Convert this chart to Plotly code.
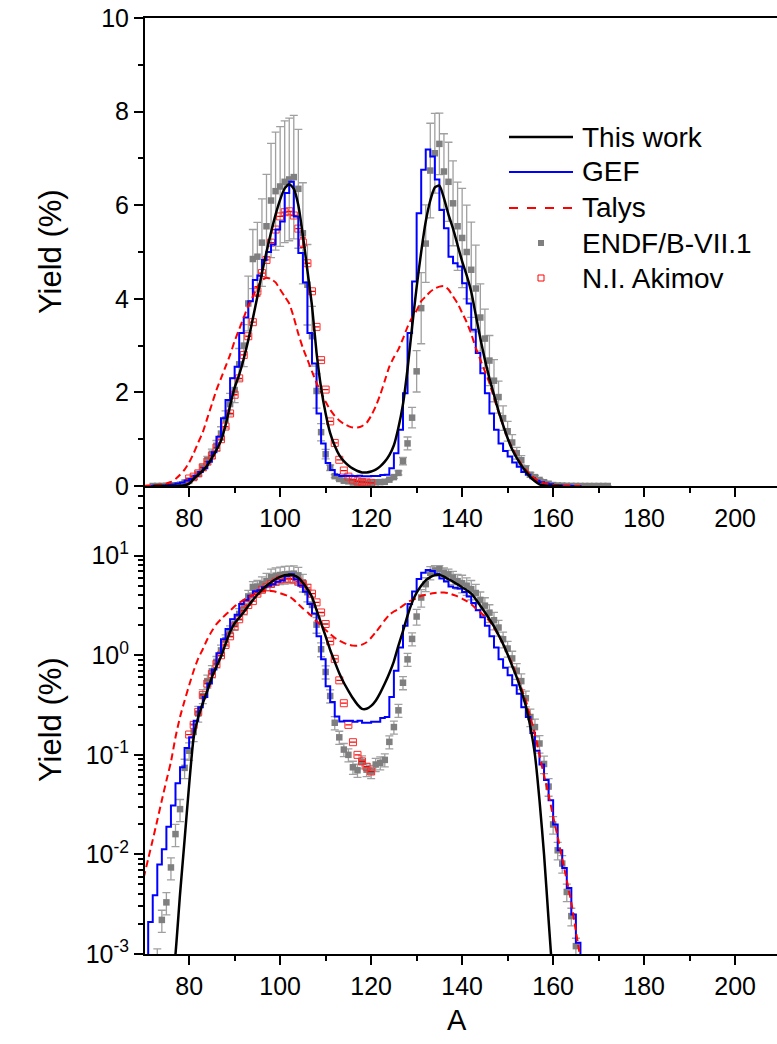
import plotly.graph_objects as go

# ---------------- data ----------------
# This work (smooth curve)
WORK_A = list(range(72, 163))
WORK_Y = [0.00001, 0.00003, 0.00008, 0.0002, 0.0004, 0.001, 0.004, 0.014, 0.05, 0.15,
          0.24, 0.33, 0.44, 0.6, 0.77, 0.97, 1.3, 1.72, 2.1, 2.38,
          2.72, 3.12, 3.58, 4.05, 4.55, 5.0, 5.42, 5.8, 6.12, 6.36,
          6.45, 6.35, 6.0, 5.35, 4.6, 3.85, 2.85, 2.1, 1.55, 1.13,
          0.86, 0.66, 0.53, 0.44, 0.37, 0.32, 0.29, 0.29, 0.31, 0.35,
          0.42, 0.52, 0.66, 0.87, 1.25, 1.75, 2.5, 3.4, 4.25, 5.0,
          5.65, 6.1, 6.38, 6.42, 6.15, 5.8, 5.5, 5.15, 4.8, 4.5,
          4.15, 3.65, 3.15, 2.7, 2.3, 1.95, 1.6, 1.3, 1.02, 0.78,
          0.6, 0.44, 0.31, 0.19, 0.1, 0.035, 0.01, 0.0022, 0.0005, 0.0001,
          0.00002]

# GEF (histogram, one bin per mass number)
GEF_A = list(range(70, 167))
GEF_Y = [0.0009, 0.0021, 0.0039, 0.0079, 0.0113, 0.019, 0.031, 0.052, 0.075, 0.117,
         0.15, 0.22, 0.3, 0.38, 0.52, 0.72, 1.05, 1.45, 1.84, 2.3,
         2.55, 3.27, 3.6, 3.95, 4.4, 4.5, 4.83, 5.0, 5.16, 5.48,
         5.65, 6.26, 6.5, 5.76, 4.98, 4.35, 3.27, 2.62, 1.55, 0.91,
         0.49, 0.34, 0.243, 0.216, 0.22, 0.22, 0.215, 0.22, 0.21, 0.21,
         0.215, 0.215, 0.235, 0.24, 0.38, 0.7, 1.2, 1.98, 3.27, 4.37,
         5.83, 6.76, 7.19, 7.04, 6.55, 5.9, 5.51, 4.9, 4.76, 4.69,
         4.33, 3.9, 3.34, 2.84, 2.41, 1.98, 1.55, 1.2, 0.91, 0.75,
         0.63, 0.5, 0.41, 0.3, 0.24, 0.166, 0.11, 0.08, 0.056, 0.035,
         0.02, 0.011, 0.0073, 0.0046, 0.0025, 0.0013, 0.0003]

# Talys (smooth dashed curve)
TALYS_A = list(range(70, 167))
TALYS_Y = [0.0058, 0.009, 0.014, 0.022, 0.035, 0.055, 0.085, 0.15, 0.24, 0.35,
           0.5, 0.7, 0.93, 1.15, 1.45, 1.75, 2.05, 2.3, 2.55, 2.8,
           3.1, 3.35, 3.6, 3.85, 4.05, 4.25, 4.4, 4.45, 4.42, 4.35,
           4.2, 4.05, 3.9, 3.6, 3.25, 2.95, 2.7, 2.45, 2.2, 2.0,
           1.8, 1.63, 1.5, 1.4, 1.33, 1.28, 1.25, 1.25, 1.28, 1.35,
           1.5, 1.7, 1.95, 2.25, 2.55, 2.75, 2.92, 3.15, 3.4, 3.6,
           3.75, 3.95, 4.05, 4.15, 4.22, 4.26, 4.27, 4.2, 4.05, 3.9,
           3.7, 3.5, 3.25, 2.95, 2.7, 2.45, 2.2, 1.88, 1.58, 1.3,
           1.02, 0.82, 0.62, 0.47, 0.35, 0.24, 0.16, 0.1, 0.062, 0.04,
           0.024, 0.015, 0.009, 0.0055, 0.0033, 0.0017, 0.0009]

# ENDF/B-VII.1 evaluated yields with relative uncertainties
ENDF_A = list(range(72, 173))
ENDF_Y = [0.0003, 0.0009, 0.0022, 0.0033, 0.0074, 0.016, 0.0285, 0.074, 0.11, 0.17,
          0.26, 0.39, 0.55, 0.69, 0.86, 1.12, 1.42, 1.75, 2.05, 2.6,
          3.0, 3.9, 4.85, 4.9, 5.2, 5.55, 6.1, 6.3, 6.4, 6.5,
          6.55, 6.6, 6.35, 5.4, 4.3, 3.2, 2.03, 1.15, 0.68, 0.39,
          0.21, 0.15, 0.113, 0.1, 0.075, 0.07, 0.085, 0.071, 0.068, 0.08,
          0.083, 0.089, 0.135, 0.19, 0.28, 0.53, 0.91, 1.46, 2.45, 3.8,
          5.18, 6.74, 7.11, 7.31, 6.72, 6.5, 6.04, 5.55, 5.3, 5.0,
          4.62, 4.22, 3.6, 3.15, 2.68, 2.25, 1.9, 1.45, 1.17, 0.93,
          0.7, 0.55, 0.37, 0.24, 0.19, 0.13, 0.081, 0.048, 0.02, 0.011,
          0.0081, 0.0042, 0.0024, 0.0012, 0.0006, 0.0003, 0.00015, 0.00008, 0.00004, 0.00002,
          0.00001]
ENDF_REL = [0.25, 0.25, 0.25, 0.25, 0.25, 0.25, 0.25, 0.22, 0.2, 0.2,
            0.18, 0.16, 0.15, 0.14, 0.13, 0.13, 0.13, 0.13, 0.13, 0.13,
            0.15, 0.15, 0.13, 0.15, 0.18, 0.2, 0.2, 0.2, 0.2, 0.2,
            0.2, 0.2, 0.2, 0.2, 0.2, 0.2, 0.18, 0.16, 0.15, 0.15,
            0.15, 0.15, 0.15, 0.15, 0.15, 0.15, 0.15, 0.15, 0.15, 0.15,
            0.15, 0.15, 0.15, 0.15, 0.15, 0.15, 0.15, 0.15, 0.18, 0.2,
            0.16, 0.15, 0.12, 0.09, 0.12, 0.13, 0.15, 0.17, 0.2, 0.2,
            0.22, 0.22, 0.2, 0.2, 0.2, 0.2, 0.18, 0.18, 0.18, 0.18,
            0.18, 0.18, 0.18, 0.2, 0.2, 0.2, 0.2, 0.2, 0.2, 0.2,
            0.2, 0.2, 0.2, 0.2, 0.2, 0.2, 0.2, 0.2, 0.2, 0.2,
            0.2]

# N.I. Akimov measured yields (only two points carry a visible error bar)
AKIMOV_A = list(range(80, 121))
AKIMOV_Y = [0.16, 0.2, 0.27, 0.4, 0.52, 0.65, 0.82, 1.0, 1.27, 1.55,
            1.95, 2.3, 2.8, 3.2, 3.5, 4.16, 4.55, 4.83, 5.2, 5.48,
            5.76, 5.85, 5.87, 5.78, 5.5, 5.2, 4.76, 4.16, 3.4, 2.69,
            2.06, 1.38, 0.92, 0.56, 0.33, 0.2, 0.134, 0.1, 0.086, 0.076,
            0.068]
AKIMOV_ERR = [None] * 15 + [0.1] + [None] * 9 + [0.1] + [None] * 15

LEGEND_NAMES = ["This work", "GEF", "Talys", "ENDF/B-VII.1", "N.I. Akimov"]
X_TICKS = [80, 100, 120, 140, 160, 180, 200]
LOG_TICKS = [1e-3, 1e-2, 1e-1, 1, 10]
LOG_TICKTEXT = ["10<sup>-3</sup>", "10<sup>-2</sup>", "10<sup>-1</sup>", "10<sup>0</sup>", "10<sup>1</sup>"]

# ---------------- styles ----------------
FONT = "Arial, Liberation Sans, sans-serif"
BLACK = "#000000"
BLUE = "#0000ff"
RED = "#ff0000"
GREY = "#7f7f7f"
ERRC = "#a0a0a0"

W, H = 777, 1044
ML, MR, MT, MB = 145, 0, 18, 90
PW, PH = W - ML - MR, H - MT - MB


def px(x):
    return (x - ML) / PW


def py(y):
    return (H - MB - y) / PH


endf_err = [v * r for v, r in zip(ENDF_Y, ENDF_REL)]

fig = go.Figure()
for xa, ya in (("x", "y"), ("x2", "y2")):
    fig.add_trace(go.Scatter(
        x=ENDF_A, y=ENDF_Y, mode="markers", xaxis=xa, yaxis=ya, showlegend=False,
        marker=dict(symbol="square", size=6.5, color=GREY),
        error_y=dict(type="data", array=endf_err, color=ERRC, thickness=1.3, width=4)))
    fig.add_trace(go.Scatter(
        x=AKIMOV_A, y=AKIMOV_Y, mode="markers", xaxis=xa, yaxis=ya, showlegend=False,
        marker=dict(symbol="square-open", size=7, color="#ff2a2a", line=dict(width=1, color="#ff2a2a")),
        error_y=dict(type="data", array=AKIMOV_ERR, color=RED, thickness=1.3, width=3)))
    fig.add_trace(go.Scatter(
        x=GEF_A, y=GEF_Y, mode="lines", xaxis=xa, yaxis=ya, showlegend=False,
        line=dict(color=BLUE, width=2, shape="hv")))
    fig.add_trace(go.Scatter(
        x=TALYS_A, y=TALYS_Y, mode="lines", xaxis=xa, yaxis=ya, showlegend=False,
        line=dict(color=RED, width=2, dash="7px,4px", shape="spline", smoothing=0.6)))
    fig.add_trace(go.Scatter(
        x=WORK_A, y=WORK_Y, mode="lines", xaxis=xa, yaxis=ya, showlegend=False,
        line=dict(color=BLACK, width=2.5, shape="spline", smoothing=0.6)))

axis_common = dict(showline=True, linecolor="black", linewidth=2, ticks="outside",
                   tickwidth=2, tickcolor="black", showgrid=False, zeroline=False,
                   tickfont=dict(family=FONT, size=25, color="black"))
XR = [70.3, 209.2]
minor_lin = dict(ticks="outside", ticklen=5, tickwidth=2, tickcolor="black")

fig.update_layout(
    width=W, height=H, margin=dict(l=ML, r=MR, t=MT, b=MB),
    paper_bgcolor="white", plot_bgcolor="white", showlegend=False,
    font=dict(family=FONT, color="black"),
    xaxis=dict(domain=[0, 1], anchor="y", range=XR, tickvals=X_TICKS, ticklen=9,
               mirror=True, minor=dict(dtick=10, tick0=0, **minor_lin), **axis_common),
    yaxis=dict(domain=[0.5, 1], anchor="x", range=[0, 10], dtick=2, ticklen=9,
               minor=dict(dtick=1, **minor_lin), **axis_common),
    xaxis2=dict(domain=[0, 1], anchor="y2", range=XR, tickvals=X_TICKS, ticklen=9,
                minor=dict(dtick=10, tick0=0, **minor_lin), **axis_common),
    yaxis2=dict(domain=[0, 0.5], anchor="x2", type="log", range=[-3, 1.70],
                tickvals=LOG_TICKS, ticktext=LOG_TICKTEXT, ticklen=9,
                minor=dict(tickvals=[m * 10 ** e for e in range(-3, 2) for m in range(2, 10)],
                           **minor_lin),
                **axis_common),
)

# axis titles
for yc in (252, 720):
    fig.add_annotation(text="Yield (%)", xref="paper", yref="paper", x=px(50), y=py(yc),
                       textangle=-90, showarrow=False, xanchor="center", yanchor="middle",
                       font=dict(family=FONT, size=31, color="black"))
fig.add_annotation(text="A", xref="paper", yref="paper", x=px(457), y=py(1020),
                   showarrow=False, xanchor="center", yanchor="middle",
                   font=dict(family=FONT, size=29, color="black"))

# legend drawn by hand (longer line samples as in the reference)
rows = [137, 172, 208, 243, 278]
line_styles = [(BLACK, 2.5, "solid"), (BLUE, 2, "solid"), (RED, 2, "dash")]
for i, (c, w, d) in enumerate(line_styles):
    fig.add_shape(type="line", xref="paper", yref="paper", x0=px(509), x1=px(573),
                  y0=py(rows[i]), y1=py(rows[i]), line=dict(color=c, width=w, dash=d))
fig.add_shape(type="rect", xref="paper", yref="paper", x0=px(538), x1=px(544),
              y0=py(rows[3] + 3), y1=py(rows[3] - 3), line=dict(width=0), fillcolor=GREY)
fig.add_shape(type="rect", xref="paper", yref="paper", x0=px(538), x1=px(544),
              y0=py(rows[4] + 3), y1=py(rows[4] - 3), line=dict(width=1, color=RED),
              fillcolor="rgba(0,0,0,0)")
for name, r in zip(LEGEND_NAMES, rows):
    fig.add_annotation(text=name, xref="paper", yref="paper", x=px(580), y=py(r),
                       showarrow=False, xanchor="left", yanchor="middle",
                       font=dict(family=FONT, size=28, color="black"))

fig.write_html("out.html")
